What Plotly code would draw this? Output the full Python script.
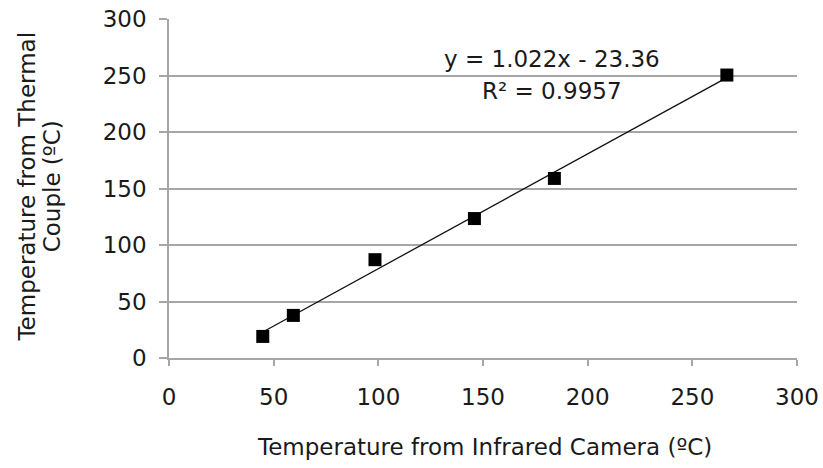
import numpy as np
import plotly.graph_objects as go

# Data
infrared_temp = [44.8, 59.4, 98.4, 145.9, 184.1, 266.5]
thermocouple_temp = [19.1, 37.7, 87.0, 123.4, 158.9, 250.4]
x_ticks = [0, 50, 100, 150, 200, 250, 300]
y_ticks = [0, 50, 100, 150, 200, 250, 300]
equation_text = "y = 1.022x - 23.36"
r2_text = "R² = 0.9957"
x_title = "Temperature from Infrared Camera (ºC)"
y_title_lines = ["Temperature from Thermal", "Couple (ºC)"]

FONT = "DejaVu Sans, Arial, sans-serif"
FS = 23
TXT = "#1a1a1a"
GRID = "#a6a6a6"

slope, intercept = np.polyfit(infrared_temp, thermocouple_temp, 1)
fit_x = np.array([min(infrared_temp), max(infrared_temp)])
fit_y = slope * fit_x + intercept

fig = go.Figure()
fig.add_trace(go.Scatter(
    x=fit_x, y=fit_y, mode="lines",
    line=dict(color="#111111", width=1.3), hoverinfo="skip", showlegend=False))
fig.add_trace(go.Scatter(
    x=infrared_temp, y=thermocouple_temp, mode="markers",
    marker=dict(symbol="square", size=13, color="#000000", line=dict(width=0)),
    showlegend=False))

tf = dict(family=FONT, size=FS, color=TXT)
ann = dict(xref="paper", yref="paper", showarrow=False, font=tf,
           xanchor="center", yanchor="middle")
fig.add_annotation(x=0.610, y=0.882, text=equation_text, **ann)
fig.add_annotation(x=0.610, y=0.787, text=r2_text, **ann)
# axis titles
fig.add_annotation(x=0.502, y=-0.264, text=x_title, **ann)
fig.add_annotation(x=-0.226, y=0.506, text=y_title_lines[0], textangle=-90, **ann)
fig.add_annotation(x=-0.185, y=0.506, text=y_title_lines[1], textangle=-90, **ann)

fig.update_layout(
    width=823, height=468,
    margin=dict(l=169, r=26, t=19, b=110, autoexpand=False),
    plot_bgcolor="white", paper_bgcolor="white",
    font=tf,
)
fig.update_xaxes(
    range=[0, 300], tickvals=x_ticks, ticktext=[str(v) for v in x_ticks],
    showgrid=False, zeroline=False,
    showline=True, linecolor=GRID, linewidth=1.5,
    ticks="outside", ticklen=6, tickcolor=GRID, tickwidth=1.5,
    ticklabelstandoff=12,
)
fig.update_yaxes(
    range=[0, 300], tickvals=y_ticks, ticktext=[str(v) for v in y_ticks],
    showgrid=True, gridcolor=GRID, gridwidth=1.5, zeroline=False,
    showline=True, linecolor=GRID, linewidth=1.5,
    ticks="outside", ticklen=8, tickcolor=GRID, tickwidth=1.5,
    ticklabelstandoff=8,
)

fig.write_html("out.html", config={"displayModeBar": False},
               post_script="document.body.style.margin='0';")
